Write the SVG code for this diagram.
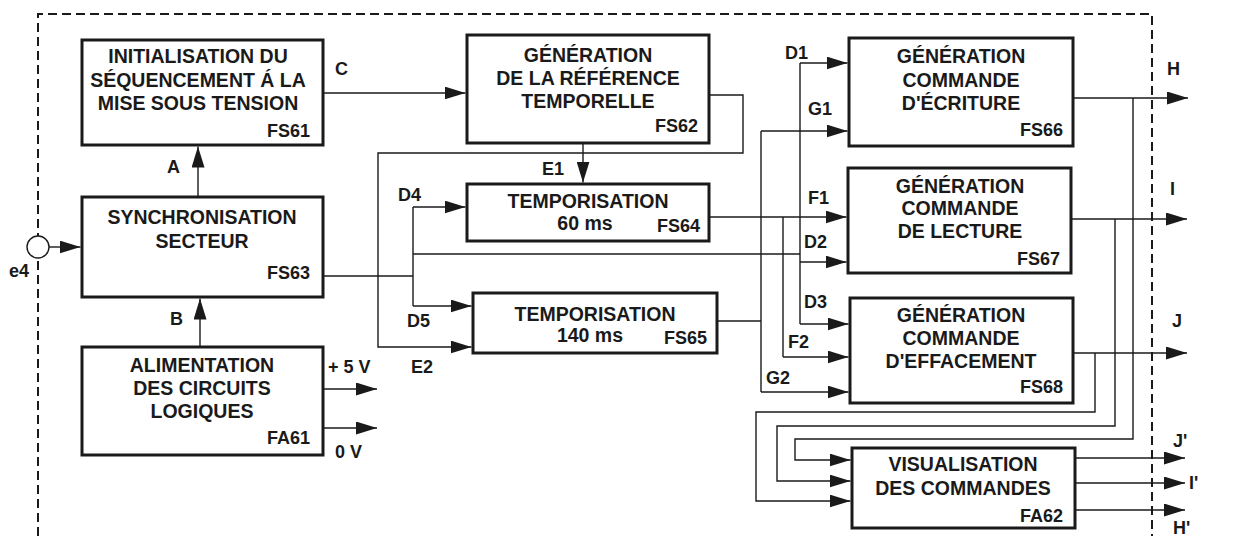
<svg xmlns="http://www.w3.org/2000/svg" width="1248" height="536" viewBox="0 0 1248 536">
<style>
text{font-family:"Liberation Sans",Arial,sans-serif;font-weight:bold;fill:#1a1a1a}
.t{font-size:19.5px;text-anchor:middle}
.c{font-size:18px;text-anchor:end}
.l{font-size:18px}
.box{fill:#fff;stroke:#1a1a1a;stroke-width:3}
.w{fill:none;stroke:#1a1a1a;stroke-width:1.4}
.a{marker-end:url(#ah)}
</style>
<defs>
<marker id="ah" markerUnits="userSpaceOnUse" markerWidth="21" markerHeight="13" refX="21" refY="6.5" orient="auto">
<path d="M0,0 L21,6.5 L0,13 Z" fill="#1a1a1a"/>
</marker>
</defs>
<rect width="1248" height="536" fill="#fff"/>
<path d="M38,536 V14 H1152 V536" fill="none" stroke="#1a1a1a" stroke-width="2" stroke-dasharray="9 5"/>

<g id="connectors">
<line class="w a" x1="49" y1="247" x2="80.5" y2="247"/>
<line class="w a" x1="198" y1="197" x2="198" y2="146.5"/>
<line class="w a" x1="200" y1="347" x2="200" y2="298.5"/>
<line class="w a" x1="323" y1="389" x2="377" y2="389"/>
<line class="w a" x1="323" y1="428" x2="377" y2="428"/>
<line class="w a" x1="323" y1="93" x2="465.5" y2="93"/>
<line class="w a" x1="583" y1="143" x2="583" y2="182.5"/>
<polyline class="w a" points="709,95 743,95 743,153 378,153 378,347 471.5,347"/>
<line class="w" x1="323" y1="276" x2="413" y2="276"/>
<line class="w" x1="413" y1="207" x2="413" y2="306"/>
<line class="w a" x1="413" y1="207" x2="465.5" y2="207"/>
<line class="w a" x1="413" y1="306" x2="471.5" y2="306"/>
<line class="w" x1="413" y1="254" x2="800" y2="254"/>
<line class="w" x1="800" y1="63" x2="800" y2="324"/>
<line class="w a" x1="800" y1="63" x2="847.5" y2="63"/>
<line class="w a" x1="800" y1="262" x2="846.5" y2="262"/>
<line class="w a" x1="800" y1="324" x2="848.5" y2="324"/>
<line class="w a" x1="709" y1="217" x2="846.5" y2="217"/>
<line class="w" x1="783" y1="217" x2="783" y2="357"/>
<line class="w a" x1="783" y1="357" x2="848.5" y2="357"/>
<line class="w" x1="717" y1="321" x2="761" y2="321"/>
<line class="w" x1="761" y1="131" x2="761" y2="392"/>
<line class="w a" x1="761" y1="131" x2="847.5" y2="131"/>
<line class="w a" x1="761" y1="392" x2="848.5" y2="392"/>
<line class="w a" x1="1073" y1="98" x2="1188" y2="98"/>
<polyline class="w a" points="1133,98 1133,439 795,439 795,460 850.5,460"/>
<line class="w a" x1="1071" y1="219" x2="1187" y2="219"/>
<polyline class="w a" points="1115,219 1115,426 777,426 777,481 850.5,481"/>
<line class="w a" x1="1073" y1="353" x2="1187" y2="353"/>
<polyline class="w a" points="1095,353 1095,412 756,412 756,501 850.5,501"/>
<line class="w a" x1="1075" y1="458" x2="1185" y2="458"/>
<line class="w a" x1="1075" y1="483" x2="1185" y2="483"/>
<line class="w a" x1="1075" y1="510" x2="1185" y2="510"/>
<circle cx="38" cy="247" r="11" fill="#fff" stroke="#1a1a1a" stroke-width="1.4"/>
</g>

<g id="labels">
<text class="l" x="9" y="277">e4</text>
<text class="l" x="167" y="173">A</text>
<text class="l" x="170" y="325">B</text>
<text class="l" x="335" y="75">C</text>
<text class="l" x="328" y="373">+ 5 V</text>
<text class="l" x="335" y="458">0 V</text>
<text class="l" x="542" y="175">E1</text>
<text class="l" x="398" y="201">D4</text>
<text class="l" x="407" y="327">D5</text>
<text class="l" x="411" y="373">E2</text>
<text class="l" x="785" y="59">D1</text>
<text class="l" x="808" y="115">G1</text>
<text class="l" x="808" y="204">F1</text>
<text class="l" x="804" y="248">D2</text>
<text class="l" x="804" y="308">D3</text>
<text class="l" x="788" y="348">F2</text>
<text class="l" x="766" y="384">G2</text>
<text class="l" x="1167" y="75">H</text>
<text class="l" x="1170" y="195">I</text>
<text class="l" x="1172" y="327">J</text>
<text class="l" x="1173" y="447">J'</text>
<text class="l" x="1189" y="489">I'</text>
<text class="l" x="1173" y="534">H'</text>
</g>

<g id="FS61">
<rect class="box" x="82" y="40" width="241" height="105"/>
<text class="t" x="198" y="63">INITIALISATION DU</text>
<text class="t" x="198" y="87">SÉQUENCEMENT Á LA</text>
<text class="t" x="198" y="110">MISE SOUS TENSION</text>
<text class="c" x="310" y="137">FS61</text>
</g>
<g id="FS63">
<rect class="box" x="82" y="197" width="241" height="100"/>
<text class="t" x="202" y="224">SYNCHRONISATION</text>
<text class="t" x="202" y="248">SECTEUR</text>
<text class="c" x="310" y="279">FS63</text>
</g>
<g id="FA61">
<rect class="box" x="82" y="347" width="241" height="108"/>
<text class="t" x="202" y="372">ALIMENTATION</text>
<text class="t" x="202" y="395">DES CIRCUITS</text>
<text class="t" x="202" y="418">LOGIQUES</text>
<text class="c" x="310" y="444">FA61</text>
</g>
<g id="FS62">
<rect class="box" x="467" y="35" width="242" height="108"/>
<text class="t" x="588" y="62">GÉNÉRATION</text>
<text class="t" x="588" y="85">DE LA RÉFÉRENCE</text>
<text class="t" x="588" y="108">TEMPORELLE</text>
<text class="c" x="698" y="132">FS62</text>
</g>
<g id="FS64">
<rect class="box" x="467" y="184" width="242" height="57"/>
<text class="t" x="588" y="208">TEMPORISATION</text>
<text class="t" x="585" y="230">60 ms</text>
<text class="c" x="700" y="232">FS64</text>
</g>
<g id="FS65">
<rect class="box" x="473" y="293" width="244" height="60"/>
<text class="t" x="595" y="321">TEMPORISATION</text>
<text class="t" x="590" y="342">140 ms</text>
<text class="c" x="707" y="344">FS65</text>
</g>
<g id="FS66">
<rect class="box" x="849" y="38" width="224" height="108"/>
<text class="t" x="961" y="63">GÉNÉRATION</text>
<text class="t" x="961" y="87">COMMANDE</text>
<text class="t" x="961" y="110">D'ÉCRITURE</text>
<text class="c" x="1063" y="136">FS66</text>
</g>
<g id="FS67">
<rect class="box" x="848" y="168" width="223" height="105"/>
<text class="t" x="960" y="193">GÉNÉRATION</text>
<text class="t" x="960" y="215">COMMANDE</text>
<text class="t" x="960" y="238">DE LECTURE</text>
<text class="c" x="1060" y="265">FS67</text>
</g>
<g id="FS68">
<rect class="box" x="850" y="298" width="223" height="105"/>
<text class="t" x="961" y="322">GÉNÉRATION</text>
<text class="t" x="961" y="345">COMMANDE</text>
<text class="t" x="961" y="368">D'EFFACEMENT</text>
<text class="c" x="1063" y="393">FS68</text>
</g>
<g id="FA62">
<rect class="box" x="852" y="448" width="223" height="80"/>
<text class="t" x="963" y="471">VISUALISATION</text>
<text class="t" x="963" y="495">DES COMMANDES</text>
<text class="c" x="1063" y="522">FA62</text>
</g>
</svg>
